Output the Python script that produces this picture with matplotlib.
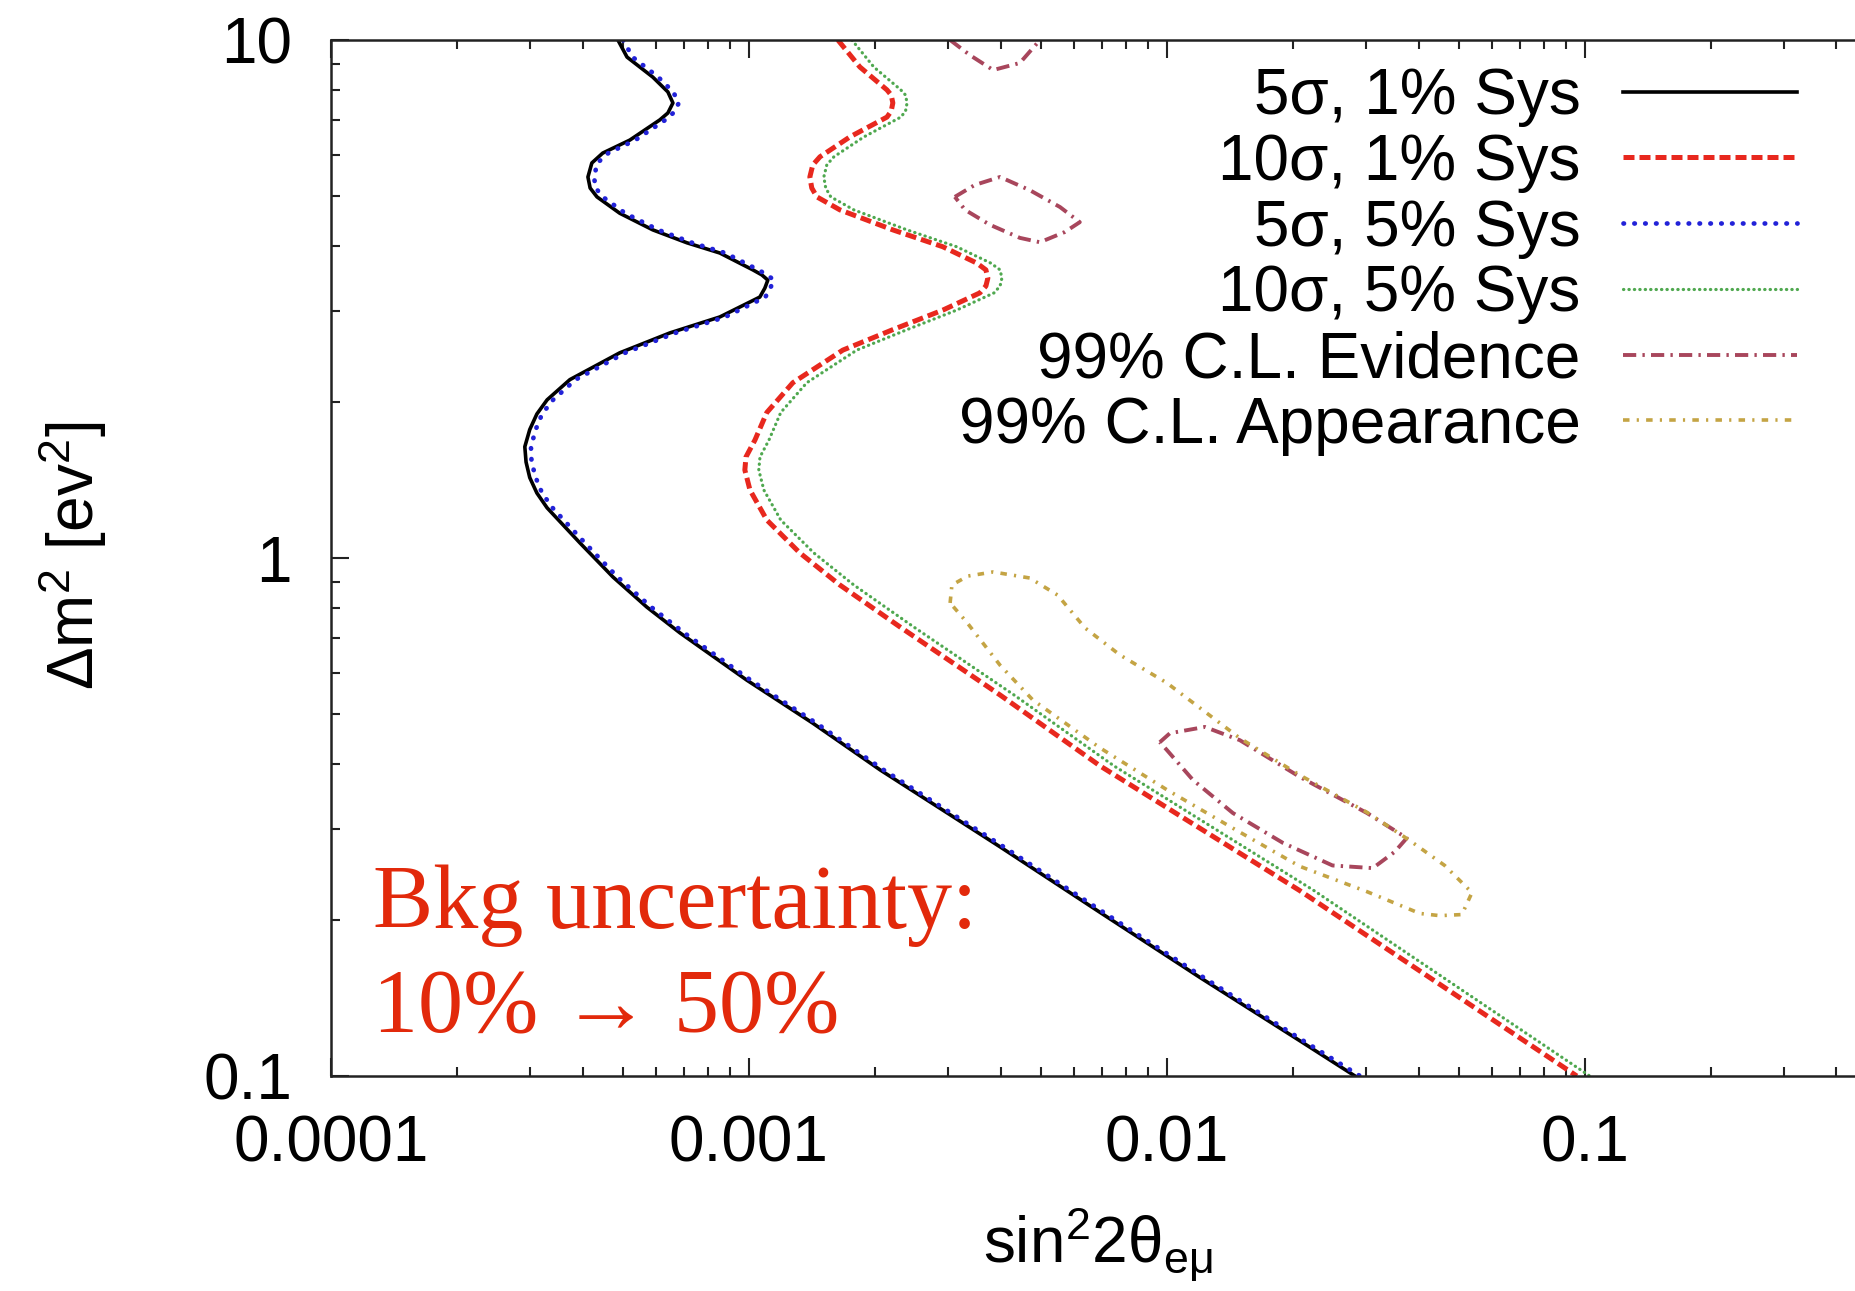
import numpy as np
import matplotlib.pyplot as plt
from matplotlib.ticker import LogLocator, NullFormatter

plt.rcParams['font.family'] = ['Liberation Sans', 'DejaVu Sans']
plt.rcParams['mathtext.fontset'] = 'custom'
plt.rcParams['mathtext.rm'] = 'Liberation Sans'
plt.rcParams['mathtext.it'] = 'Liberation Sans:italic'
plt.rcParams['mathtext.bf'] = 'Liberation Sans:bold'

# 5 sigma, 1% sys
blk_x = [4.86e-4, 5.11e-4, 5.89e-4, 6.40e-4, 6.58e-4, 6.40e-4, 6.12e-4, 5.19e-4, 4.47e-4,
         4.21e-4, 4.12e-4, 4.17e-4, 4.33e-4, 4.91e-4, 5.89e-4, 7.11e-4, 8.52e-4, 1.022e-3,
         1.074e-3, 1.110e-3, 1.092e-3, 1.062e-3, 8.52e-4, 6.47e-4, 4.91e-4, 3.73e-4, 3.29e-4,
         3.11e-4, 2.99e-4, 2.91e-4, 2.93e-4, 2.99e-4, 3.11e-4, 3.29e-4, 3.94e-4, 4.73e-4,
         5.70e-4, 6.84e-4, 9.89e-4, 1.422e-3, 2.06e-3, 3.99e-3, 6.92e-3, 1.20e-2, 2.08e-2, 2.82e-2]
blk_y = [10, 9.27, 8.48, 7.94, 7.56, 7.23, 7.01, 6.41, 6.05,
         5.79, 5.44, 5.18, 4.98, 4.63, 4.30, 4.06, 3.88, 3.60,
         3.52, 3.44, 3.32, 3.19, 2.92, 2.72, 2.49, 2.21, 2.02,
         1.897, 1.77, 1.64, 1.532, 1.43, 1.335, 1.25, 1.07, 0.919,
         0.804, 0.717, 0.581, 0.480, 0.390, 0.277, 0.207, 0.155, 0.117, 0.1]

# 5 sigma, 5% sys
blu_x = [5.0e-4, 5.27e-4, 6.07e-4, 6.59e-4, 6.80e-4, 6.59e-4, 6.31e-4, 5.35e-4, 4.61e-4,
         4.34e-4, 4.26e-4, 4.30e-4, 4.47e-4, 5.06e-4, 6.07e-4, 7.32e-4, 8.78e-4, 1.053e-3,
         1.106e-3, 1.148e-3, 1.125e-3, 1.095e-3, 8.78e-4, 6.67e-4, 5.06e-4, 3.85e-4, 3.40e-4,
         3.20e-4, 3.09e-4, 3.01e-4, 3.02e-4, 3.09e-4, 3.20e-4, 3.39e-4, 4.05e-4, 4.85e-4,
         5.84e-4, 7.0e-4, 1.01e-3, 1.45e-3, 2.10e-3, 4.07e-3, 7.06e-3, 1.224e-2, 2.12e-2, 2.90e-2]
blu_y = blk_y

# 10 sigma, 1% sys
red_x = [1.633e-3, 1.843e-3, 2.14e-3, 2.19e-3, 2.21e-3, 2.19e-3, 2.14e-3, 1.744e-3, 1.479e-3,
         1.422e-3, 1.399e-3, 1.414e-3, 1.454e-3, 1.651e-3, 2.21e-3, 2.91e-3, 3.51e-3, 3.69e-3,
         3.73e-3, 3.69e-3, 3.57e-3, 2.91e-3, 2.21e-3, 1.678e-3, 1.274e-3, 1.104e-3, 1.034e-3,
         9.84e-4, 9.78e-4, 1.006e-3, 1.104e-3, 1.324e-3, 1.651e-3, 2.30e-3, 3.99e-3, 6.92e-3,
         2.08e-2, 9.57e-2]
red_y = [10, 8.87, 8.01, 7.83, 7.56, 7.29, 7.10, 6.50, 5.95,
         5.74, 5.44, 5.18, 4.98, 4.70, 4.30, 3.99, 3.71, 3.60,
         3.47, 3.35, 3.25, 3.01, 2.76, 2.52, 2.18, 1.91, 1.69,
         1.567, 1.479, 1.353, 1.184, 1.023, 0.887, 0.736, 0.544, 0.397,
         0.228, 0.1]

# 10 sigma, 5% sys
grn_x = [1.764e-3, 1.99e-3, 2.31e-3, 2.37e-3, 2.39e-3, 2.37e-3, 2.31e-3, 1.884e-3, 1.597e-3,
         1.536e-3, 1.511e-3, 1.527e-3, 1.570e-3, 1.783e-3, 2.39e-3, 3.14e-3, 3.79e-3, 3.99e-3,
         4.03e-3, 3.99e-3, 3.86e-3, 3.14e-3, 2.39e-3, 1.812e-3, 1.376e-3, 1.192e-3, 1.117e-3,
         1.063e-3, 1.056e-3, 1.086e-3, 1.192e-3, 1.43e-3, 1.783e-3, 2.48e-3, 4.31e-3, 7.47e-3,
         2.25e-2, 1.028e-1]
grn_y = red_y

# 99% CL evidence islands
ev1_x = [3.03e-3, 3.38e-3, 3.84e-3, 4.45e-3, 4.97e-3]
ev1_y = [10, 9.35, 8.75, 9.03, 10]
ev2_x = [3.11e-3, 3.47e-3, 3.99e-3, 4.70e-3, 5.55e-3, 6.19e-3, 5.70e-3, 4.97e-3, 4.45e-3, 3.77e-3, 3.29e-3, 3.11e-3]
ev2_y = [4.98, 5.25, 5.44, 5.13, 4.76, 4.45, 4.26, 4.07, 4.15, 4.40, 4.70, 4.98]
ev3_x = [9.62e-3, 1.017e-2, 1.233e-2, 1.495e-2, 2.08e-2, 3.01e-2, 3.75e-2, 3.51e-2, 3.11e-2,
         2.49e-2, 1.894e-2, 1.438e-2, 1.154e-2, 1.0e-2, 9.62e-3]
ev3_y = [0.441, 0.459, 0.472, 0.445, 0.378, 0.322, 0.288, 0.271, 0.252,
         0.255, 0.282, 0.322, 0.373, 0.426, 0.441]

# 99% CL appearance
app_x = [3.03e-3, 3.06e-3, 3.34e-3, 3.84e-3, 4.70e-3, 5.48e-3, 6.37e-3, 7.72e-3, 1.0e-2,
         1.495e-2, 2.08e-2, 3.01e-2, 3.81e-2, 4.62e-2, 5.37e-2, 5.08e-2, 4.50e-2, 4.03e-2,
         3.01e-2, 2.08e-2, 1.438e-2, 1.0e-2, 6.92e-3, 4.78e-3, 3.99e-3, 3.32e-3, 3.03e-3]
app_y = [0.819, 0.887, 0.923, 0.940, 0.915, 0.848, 0.733, 0.650, 0.574,
         0.449, 0.381, 0.323, 0.285, 0.255, 0.226, 0.205, 0.204, 0.206,
         0.227, 0.254, 0.301, 0.357, 0.430, 0.532, 0.621, 0.752, 0.819]

labels = ['5σ, 1% Sys', '10σ, 1% Sys', '5σ, 5% Sys', '10σ, 5% Sys',
          '99% C.L. Evidence', '99% C.L. Appearance']
xt_vals = [1e-4, 1e-3, 1e-2, 1e-1]
xt_labels = ['0.0001', '0.001', '0.01', '0.1']
yt_vals = [0.1, 1, 10]
yt_labels = ['0.1', '1', '10']

fig = plt.figure(figsize=(18.56, 12.91), dpi=100)
ax = fig.add_axes([0.1783, 0.1665, 0.8330, 0.8025])
ax.set_xscale('log')
ax.set_yscale('log')

c_ev = '#a8465c'
c_app = '#c4a444'
h1, = ax.plot(blk_x, blk_y, color='black', lw=2.6, solid_joinstyle='round')
h2, = ax.plot(red_x, red_y, color='#e8281e', lw=3.6, dashes=(2.2, 1.0))
h3, = ax.plot(blu_x, blu_y, color='#2222d8', lw=3.4, dashes=(0.1, 2.2), dash_capstyle='round')
h4, = ax.plot(grn_x, grn_y, color='#4fa84f', lw=2.3, dashes=(0.1, 1.6), dash_capstyle='round')
ev_style = dict(color=c_ev, lw=2.8, dashes=(3.4, 1.6, 0.6, 1.6))
h5, = ax.plot(ev1_x, ev1_y, **ev_style)
ax.plot(ev2_x, ev2_y, **ev_style)
ax.plot(ev3_x, ev3_y, **ev_style)
h6, = ax.plot(app_x, app_y, color=c_app, lw=2.6, dashes=(1.8, 2.0, 0.6, 2.0))

ax.set_xlim(1e-4, 0.5)
ax.set_ylim(0.1, 10)
ax.set_xticks(xt_vals, labels=xt_labels)
ax.set_yticks(yt_vals, labels=yt_labels)
ax.xaxis.set_minor_locator(LogLocator(subs=np.arange(2, 10)))
ax.yaxis.set_minor_locator(LogLocator(subs=np.arange(2, 10)))
ax.xaxis.set_minor_formatter(NullFormatter())
ax.yaxis.set_minor_formatter(NullFormatter())
ax.tick_params(which='both', direction='in', top=True, right=True, width=1.5, colors='#222222')
ax.tick_params(which='major', length=13, labelsize=46, labelcolor='black')
ax.tick_params(which='minor', length=6.5)
ax.tick_params(axis='x', which='major', pad=28)
ax.tick_params(axis='y', which='major', pad=28)
for s in ax.spines.values():
    s.set_linewidth(1.8)
    s.set_color('#222222')

ax.legend([h1, h2, h3, h4, h5, h6], labels, loc='upper right',
          bbox_to_anchor=(0.9682, 0.9481), bbox_transform=fig.transFigure,
          markerfirst=False, frameon=False, fontsize=46, handlelength=2.73,
          handletextpad=0.66, labelspacing=0.09, borderpad=0, borderaxespad=0)

fig.text(1098 / 1856, 1 - 1244 / 1291, r'$\mathrm{sin^{2}2\theta_{e\mu}}$',
         ha='center', va='center', fontsize=46)
fig.text(73 / 1856, 1 - 556 / 1291, r'$\mathrm{\Delta m^{2}\ [ev^{2}]}$',
         rotation=90, ha='center', va='center', fontsize=46)

serif = ['Liberation Serif', 'DejaVu Serif']
fig.text(373 / 1856, 1 - 928 / 1291, 'Bkg uncertainty:', family=serif,
         fontsize=65, color='#e2290b', va='baseline')
fig.text(373 / 1856, 1 - 1032 / 1291, '10% → 50%', family=serif,
         fontsize=65, color='#e2290b', va='baseline')

fig.savefig('out.png', dpi=100)
